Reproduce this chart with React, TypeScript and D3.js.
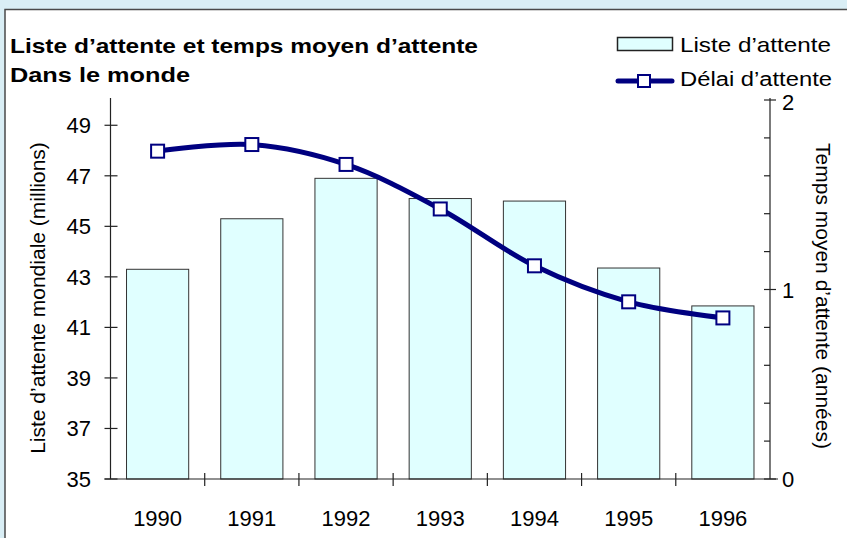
import React, { useEffect, useRef } from 'react';
import * as d3 from 'd3';

const years = ['1990', '1991', '1992', '1993', '1994', '1995', '1996'];
const listeAttente = [43.3, 45.3, 46.9, 46.1, 46.0, 43.35, 41.85];
const delaiAttente = [1.73, 1.765, 1.66, 1.425, 1.125, 0.935, 0.85];
const leftTicks = [35, 37, 39, 41, 43, 45, 47, 49];
const rightMajor = [0, 1, 2];

const W = 847;
const H = 538;
const FONT = 'Liberation Sans, Arial, sans-serif';

const App = () => {
  const ref = useRef<SVGSVGElement | null>(null);

  useEffect(() => {
    const svg = d3.select(ref.current);
    svg.selectAll('*').remove();

    // background + panel
    svg.append('rect').attr('width', W).attr('height', H).attr('fill', '#d9eef5');
    svg.append('rect')
      .attr('x', 5).attr('y', 9.5).attr('width', W + 10).attr('height', H + 10)
      .attr('fill', '#fff').attr('stroke', '#4a4a4a').attr('stroke-width', 1.5);

    const left = 110.5, right = 770, top = 100, bottom = 479;

    const x = d3.scaleBand().domain(years).range([left, right]).paddingInner(0.34).paddingOuter(0.17);
    const xb = d3.scaleBand().domain(years).range([left, right]);
    const y = d3.scaleLinear().domain([35, 50]).range([bottom, top]);
    const y2 = d3.scaleLinear().domain([0, 2]).range([bottom, top]);

    // bars
    svg.append('g').selectAll('rect').data(listeAttente).enter().append('rect')
      .attr('x', (d, i) => x(years[i])!)
      .attr('y', d => y(d))
      .attr('width', x.bandwidth())
      .attr('height', d => bottom - y(d))
      .attr('fill', '#e0ffff')
      .attr('stroke', '#333')
      .attr('stroke-width', 1);

    const axisColor = '#222';
    const g = svg.append('g').attr('stroke', axisColor).attr('stroke-width', 1.2).attr('fill', 'none');

    // left axis
    g.append('line').attr('x1', left).attr('x2', left).attr('y1', top - 2).attr('y2', bottom);
    leftTicks.forEach(t => {
      g.append('line').attr('x1', left - 6).attr('x2', left + 7).attr('y1', y(t)).attr('y2', y(t));
    });

    // right axis (minor ticks every 0.2)
    g.append('line').attr('x1', right).attr('x2', right).attr('y1', top - 2).attr('y2', bottom);
    d3.range(0, 2.01, 0.2).forEach(t => {
      const major = rightMajor.some(m => Math.abs(m - t) < 1e-6);
      g.append('line')
        .attr('x1', right - 6).attr('x2', major ? right + 6 : right)
        .attr('y1', y2(t)).attr('y2', y2(t));
    });

    // bottom axis
    g.append('line').attr('x1', left - 6).attr('x2', right + 8).attr('y1', bottom).attr('y2', bottom);
    years.forEach((yr, i) => {
      const bx = xb(yr)!;
      if (i > 0) g.append('line').attr('x1', bx).attr('x2', bx).attr('y1', bottom - 6).attr('y2', bottom + 7);
    });

    const txt = svg.append('g').attr('font-family', FONT).attr('fill', '#000');

    leftTicks.forEach(t => {
      txt.append('text').attr('x', 91).attr('y', y(t) + 8).attr('text-anchor', 'end')
        .attr('font-size', 22).text(t);
    });
    rightMajor.forEach(t => {
      txt.append('text').attr('x', 782).attr('y', y2(t) + (t === 2 ? 10 : 8)).attr('font-size', 22).text(t);
    });
    years.forEach(yr => {
      txt.append('text').attr('x', xb(yr)! + xb.bandwidth() / 2).attr('y', 526)
        .attr('text-anchor', 'middle').attr('font-size', 22).text(yr);
    });

    txt.append('text').attr('transform', 'translate(45,298) rotate(-90)')
      .attr('text-anchor', 'middle').attr('font-size', 21).text('Liste d\u2019attente mondiale (millions)');
    txt.append('text').attr('transform', 'translate(816,296) rotate(90)')
      .attr('text-anchor', 'middle').attr('font-size', 21).text('Temps moyen d\u2019attente (années)');

    // titles
    txt.append('text').attr('x', 10).attr('y', 53).attr('font-size', 21).attr('font-weight', 'bold')
      .attr('textLength', 468).attr('lengthAdjust', 'spacingAndGlyphs')
      .text('Liste d\u2019attente et temps moyen d\u2019attente');
    txt.append('text').attr('x', 10).attr('y', 82).attr('font-size', 21).attr('font-weight', 'bold')
      .attr('textLength', 180).attr('lengthAdjust', 'spacingAndGlyphs')
      .text('Dans le monde');

    // line series
    const line = d3.line<number>()
      .x((d, i) => xb(years[i])! + xb.bandwidth() / 2)
      .y(d => y2(d))
      .curve(d3.curveCatmullRom.alpha(0.5));
    svg.append('path').datum(delaiAttente).attr('d', line)
      .attr('fill', 'none').attr('stroke', '#000080').attr('stroke-width', 5);
    svg.append('g').selectAll('rect').data(delaiAttente).enter().append('rect')
      .attr('x', (d, i) => xb(years[i])! + xb.bandwidth() / 2 - 6.5)
      .attr('y', d => y2(d) - 6.5)
      .attr('width', 13).attr('height', 13)
      .attr('fill', '#fff').attr('stroke', '#000080').attr('stroke-width', 2);

    // legend
    const lg = svg.append('g');
    lg.append('rect').attr('x', 617.5).attr('y', 37.5).attr('width', 55).attr('height', 13)
      .attr('fill', '#e0ffff').attr('stroke', '#222').attr('stroke-width', 1.5);
    lg.append('line').attr('x1', 618).attr('x2', 672).attr('y1', 81).attr('y2', 81)
      .attr('stroke', '#000080').attr('stroke-width', 5).attr('stroke-linecap', 'round');
    lg.append('rect').attr('x', 638).attr('y', 75).attr('width', 12).attr('height', 12)
      .attr('fill', '#fff').attr('stroke', '#000080').attr('stroke-width', 2);
    lg.append('text').attr('x', 680).attr('y', 52).attr('font-family', FONT).attr('font-size', 21)
      .attr('textLength', 151).attr('lengthAdjust', 'spacingAndGlyphs')
      .text('Liste d\u2019attente');
    lg.append('text').attr('x', 680).attr('y', 86).attr('font-family', FONT).attr('font-size', 20)
      .attr('textLength', 152).attr('lengthAdjust', 'spacingAndGlyphs')
      .text('Délai d\u2019attente');
  }, []);

  return (
    <svg ref={ref} width={W} height={H}
      style={{ position: 'absolute', left: 0, top: 0, display: 'block' }} />
  );
};

export default App;
